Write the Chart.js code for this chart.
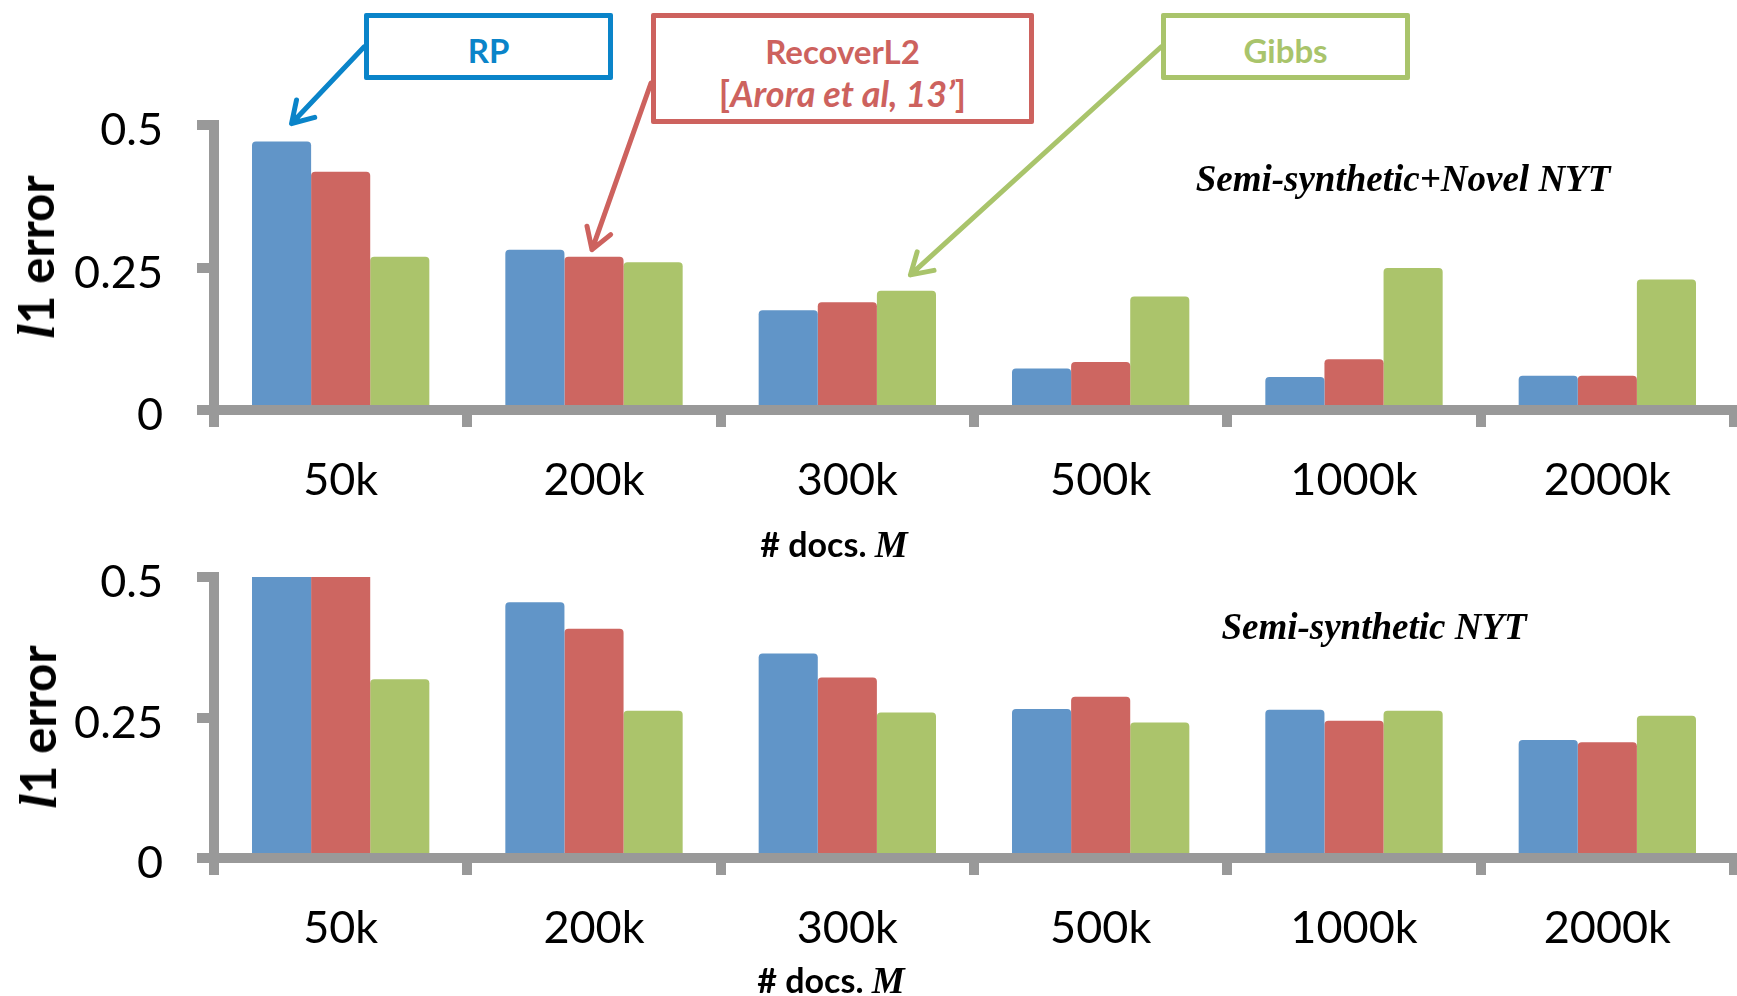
<!DOCTYPE html>
<html>
<head>
<meta charset="utf-8">
<script src="https://cdn.jsdelivr.net/npm/chart.js@4.4.0/dist/chart.umd.min.js"></script>
<style>
    body { margin: 0; width: 1737px; height: 996px; background: #fff; position: relative; overflow: hidden; font-family: Lato, sans-serif; }
    canvas { position: absolute; left: 0; }
    #topChart { top: 0; }
    #bottomChart { top: 500px; }
    .lbl { position: absolute; transform: translate(-50%, -50%); white-space: nowrap; color: #000; }
    .ytitle { font-weight: bold; font-size: 49px; transform: translate(-50%, -50%) rotate(-90deg); }
    .ytitle i { font-family: "Liberation Serif", serif; font-size: 52px; }
    .xtitle { font-weight: bold; font-size: 34px; }
    .xtitle i { font-family: "Liberation Serif", serif; font-size: 37px; }
    .note { font-family: "Liberation Serif", serif; font-weight: bold; font-style: italic; font-size: 37px; }
    .box { position: absolute; box-sizing: border-box; border: 5px solid; border-radius: 2px; background: #fff;
           display: flex; flex-direction: column; justify-content: center; align-items: center;
           font-weight: bold; font-size: 33px; line-height: 42px; padding-top: 6px; }
    .box .cite { font-size: 36px; }
</style>
</head>
<body>
<canvas id="topChart" width="1737" height="560"></canvas>
<canvas id="bottomChart" width="1737" height="496"></canvas>

<div class="lbl ytitle" style="left:36px; top:257px;"><i>l</i>1 error</div>
<div class="lbl ytitle" style="left:38px; top:727px;"><i>l</i>1 error</div>
<div class="lbl xtitle" style="left:834px; top:544px;"># docs. <i>M</i></div>
<div class="lbl xtitle" style="left:831px; top:980px;"># docs. <i>M</i></div>
<div class="lbl note" style="left:1403px; top:178px;">Semi-synthetic+Novel NYT</div>
<div class="lbl note" style="left:1374px; top:626px;">Semi-synthetic NYT</div>

<div class="box" style="left:364px; top:13px; width:249px; height:67px; border-color:#0a84c9; color:#0a84c9;">RP</div>
<div class="box" style="left:651px; top:13px; width:383px; height:111px; border-color:#cd625e; color:#cd625e;">
    <span>RecoverL2</span><span class="cite">[<i>Arora et al, 13’</i>]</span>
</div>
<div class="box" style="left:1161px; top:13px; width:249px; height:67px; border-color:#a9c46b; color:#a9c46b;">Gibbs</div>

<script>
// categorias y series
const categories = ['50k', '200k', '300k', '500k', '1000k', '2000k'];
const seriesNames = ['RP', 'RecoverL2', 'Gibbs'];
const yTicks = [0, 0.25, 0.5];

// Semi-synthetic+Novel NYT
const novelRP = [0.471, 0.281, 0.175, 0.073, 0.058, 0.060];
const novelRecover = [0.418, 0.269, 0.189, 0.084, 0.089, 0.060];
const novelGibbs = [0.269, 0.259, 0.209, 0.199, 0.249, 0.229];

// Semi-synthetic NYT
const plainRP = [0.5, 0.455, 0.364, 0.265, 0.264, 0.210];
const plainRecover = [0.5, 0.408, 0.321, 0.287, 0.244, 0.206];
const plainGibbs = [0.318, 0.262, 0.259, 0.241, 0.262, 0.253];

const colors = ['#6195c8', '#cd6661', '#abc46b'];
const axisGray = '#999999';

// flechas de las etiquetas: caja -> barra (serie, categoria)
const callouts = [
    { color: '#0a84c9', from: [364, 47], ds: 0, cat: 0, dx: 10, dy: 18 },
    { color: '#cd625e', from: [651, 83], ds: 1, cat: 1, dx: -2, dy: 7 },
    { color: '#a9c46b', from: [1161, 47], ds: 2, cat: 2, dx: 4, dy: 16 }
];

const arrowPlugin = {
    id: 'arrows',
    afterDraw(chart) {
        const c = chart.ctx;
        c.save();
        c.lineWidth = 5;
        c.lineCap = 'round';
        c.lineJoin = 'round';
        callouts.forEach(a => {
            const bar = chart.getDatasetMeta(a.ds).data[a.cat];
            const tx = bar.x + a.dx, ty = bar.y - a.dy;
            const ang = Math.atan2(ty - a.from[1], tx - a.from[0]);
            const len = 24, spread = 0.55;
            c.strokeStyle = a.color;
            c.beginPath();
            c.moveTo(a.from[0], a.from[1]);
            c.lineTo(tx, ty);
            c.moveTo(tx - len * Math.cos(ang - spread), ty - len * Math.sin(ang - spread));
            c.lineTo(tx, ty);
            c.lineTo(tx - len * Math.cos(ang + spread), ty - len * Math.sin(ang + spread));
            c.stroke();
        });
        c.restore();
    }
};

function makeDatasets(values) {
    return values.map((v, i) => ({
        label: seriesNames[i],
        data: v,
        backgroundColor: colors[i],
        borderWidth: 0,
        borderRadius: ctx => (ctx.raw >= 0.5 ? 0 : 4),
        categoryPercentage: 0.7,
        barPercentage: 1.0
    }));
}

function makeChart(id, values, padTop, xHeight, plugins) {
    return new Chart(document.getElementById(id), {
        type: 'bar',
        data: { labels: categories, datasets: makeDatasets(values) },
        plugins: plugins,
        options: {
            responsive: false,
            animation: false,
            layout: { padding: { top: padTop, right: 3, left: 0, bottom: 0 } },
            plugins: { legend: { display: false }, tooltip: { enabled: false } },
            scales: {
                x: {
                    z: 1,
                    offset: true,
                    grid: { offset: true, drawOnChartArea: false, drawTicks: true, tickLength: 17, lineWidth: 10, color: axisGray },
                    border: { display: true, color: axisGray, width: 10 },
                    ticks: { color: '#000', font: { family: 'Lato', size: 45 }, padding: 26, maxRotation: 0 },
                    afterFit: s => { s.height = xHeight; }
                },
                y: {
                    z: 1,
                    min: 0,
                    max: 0.5,
                    afterBuildTicks: s => { s.ticks = yTicks.map(v => ({ value: v })); },
                    grid: { drawOnChartArea: false, drawTicks: true, tickLength: 17, lineWidth: 10, color: axisGray },
                    border: { display: true, color: axisGray, width: 10 },
                    // linea vacia para bajar un poco la etiqueta, como en el original
                    ticks: { color: '#000', font: { family: 'Lato', size: 45, lineHeight: 0.26 }, padding: 34, callback: v => ['', String(v)] },
                    afterFit: s => { s.width = 214; }
                }
            }
        }
    });
}

makeChart('topChart', [novelRP, novelRecover, novelGibbs], 125, 150, [arrowPlugin]);
makeChart('bottomChart', [plainRP, plainRecover, plainGibbs], 77, 138, []);
</script>
</body>
</html>
